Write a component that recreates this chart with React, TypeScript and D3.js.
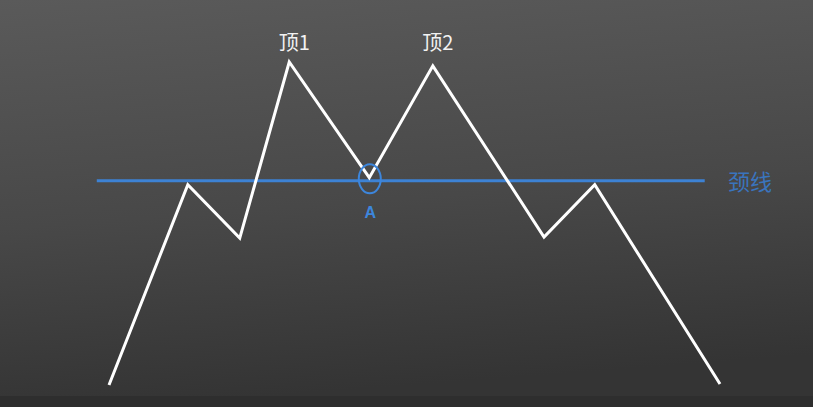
import { useEffect, useRef } from "react";
import * as d3 from "d3";

// time axis (abstract units) and price values for the zigzag
const times = [0, 12.9, 21.4, 29.5, 42.6, 53.0, 71.2, 79.5, 100];
const prices = [0, 62, 45.5, 100, 64.2, 98.8, 45.8, 62, 0.3];
const necklinePrice = 63.2;
const necklineSpan = [-2, 97.5];
const peakLabels = [
  { label: "顶1", index: 3 },
  { label: "顶2", index: 5 },
];
const pointA = { label: "A", index: 4 };
const necklineLabel = "颈线";

export default function App() {
  const svgRef = useRef<SVGSVGElement>(null);

  useEffect(() => {
    if (!svgRef.current) return;
    const width = 813;
    const height = 407;

    const x = d3.scaleLinear().domain([0, 100]).range([109, 720]);
    const y = d3.scaleLinear().domain([0, 100]).range([385, 62]);

    const svg = d3.select(svgRef.current);
    svg.selectAll("*").remove();
    svg.attr("width", width).attr("height", height);

    // background gradient
    const defs = svg.append("defs");
    const grad = defs
      .append("linearGradient")
      .attr("id", "bg")
      .attr("x1", 0)
      .attr("y1", 0)
      .attr("x2", 0.15)
      .attr("y2", 1);
    grad.append("stop").attr("offset", "0%").attr("stop-color", "#5a5a5a");
    grad.append("stop").attr("offset", "55%").attr("stop-color", "#484848");
    grad.append("stop").attr("offset", "100%").attr("stop-color", "#343434");
    svg
      .append("rect")
      .attr("width", width)
      .attr("height", height)
      .attr("fill", "url(#bg)");
    svg
      .append("rect")
      .attr("y", 396)
      .attr("width", width)
      .attr("height", height - 396)
      .attr("fill", "#2e2e2e");

    // neckline
    const ny = y(necklinePrice);
    svg
      .append("line")
      .attr("x1", x(necklineSpan[0]))
      .attr("x2", x(necklineSpan[1]))
      .attr("y1", ny)
      .attr("y2", ny)
      .attr("stroke", "#3d82d4")
      .attr("stroke-width", 3);

    svg
      .append("text")
      .attr("x", 750)
      .attr("y", ny + 9)
      .attr("text-anchor", "middle")
      .attr("fill", "#3a74bd")
      .attr("font-size", 22)
      .attr("font-family", "'Noto Sans CJK SC', sans-serif")
      .text(necklineLabel);

    // zigzag price path
    const pts = times.map((t, i) => [x(t), y(prices[i])] as [number, number]);
    svg
      .append("path")
      .attr("d", d3.line()(pts))
      .attr("fill", "none")
      .attr("stroke", "#ffffff")
      .attr("stroke-width", 3)
      .attr("stroke-linejoin", "miter");

    // peak labels
    svg
      .selectAll("text.peak")
      .data(peakLabels)
      .join("text")
      .attr("class", "peak")
      .attr("x", (d) => x(times[d.index]) + 5)
      .attr("y", 50)
      .attr("text-anchor", "middle")
      .attr("fill", "#f2f2f2")
      .attr("font-size", 20)
      .attr("font-family", "'Noto Sans CJK SC', sans-serif")
      .text((d) => d.label);

    // point A marker
    const ax = x(times[pointA.index]);
    svg
      .append("ellipse")
      .attr("cx", ax + 0.5)
      .attr("cy", ny - 2)
      .attr("rx", 11)
      .attr("ry", 14.5)
      .attr("fill", "none")
      .attr("stroke", "#3d86dc")
      .attr("stroke-width", 2);
    svg
      .append("text")
      .attr("x", ax + 1)
      .attr("y", 218)
      .attr("text-anchor", "middle")
      .attr("fill", "#3d86dc")
      .attr("font-size", 16)
      .attr("font-weight", "bold")
      .attr("font-family", "'Liberation Sans', Arial, sans-serif")
      .text(pointA.label);
  }, []);

  return (
    <div style={{ position: "fixed", left: 0, top: 0, width: 813, height: 407 }}>
      <svg ref={svgRef} style={{ display: "block" }} />
    </div>
  );
}
